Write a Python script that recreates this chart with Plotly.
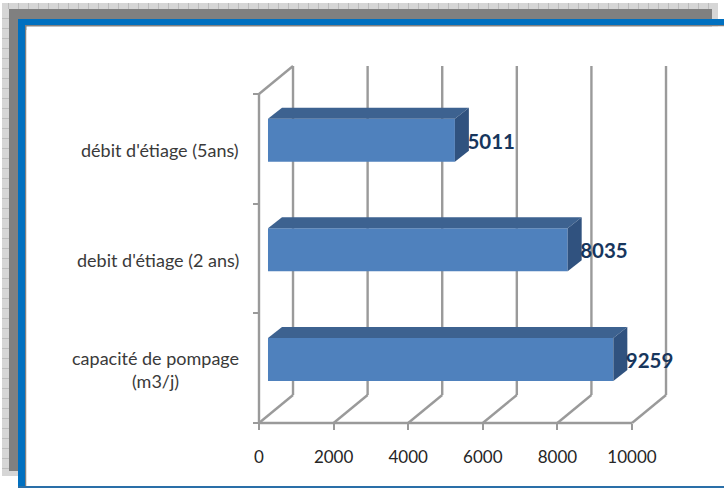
import plotly.graph_objects as go

categories = ["capacité de pompage<br>(m3/j)", "debit d'étiage (2 ans)", "débit d'étiage (5ans)"]
values = [9259, 8035, 5011]
x_ticks = [0, 2000, 4000, 6000, 8000, 10000]
cat_edges = [0, 1, 2, 3]
cat_centers = [0.5, 1.5, 2.5]

# 3-D projection of the Excel-like chart, in axis units
WALL_DX, WALL_DY = 912, 0.255     # floor depth (front axis -> back wall)
BAR_X0, BAR_Y_SHIFT = 241, 0.079  # front face offset from the front axis
BAR_DX, BAR_DY = 375, 0.10        # bar depth
BAR_H = 0.392

W, H = 724, 488
PX0, PX1 = 250, 680               # plot box, px
PY0, PY1 = 60, 430
UX = 0.0373                       # px per value unit
UY = 109.67                       # px per category

GRID = "#9a9a9a"
FRONT, TOP, SIDE = "#4f81bd", "#3d6290", "#30527f"

shapes = []


def rect(x0, y0, x1, y1, color):
    shapes.append(dict(type="rect", xref="paper", yref="paper", layer="below",
                       x0=x0 / W, x1=x1 / W, y0=1 - y0 / H, y1=1 - y1 / H,
                       fillcolor=color, line_width=0))


def seg(x0, y0, x1, y1):
    shapes.append(dict(type="line", xref="x", yref="y", layer="below",
                       x0=x0, y0=y0, x1=x1, y1=y1, line=dict(color=GRID, width=2.4)))


# frame
rect(2, 3, 718, 30, "#d6d6d6")
rect(2, 3, 18, 476, "#d6d6d6")
rect(9, 9, 712, 30, "#808080")
rect(9, 9, 18, 471, "#808080")
for px in range(8, 712, 10):
    rect(px, 3, px + 1, 9, "#bcbcbc")
for py in range(18, 476, 10):
    rect(2, py, 9, py + 1, "#bcbcbc")
rect(18, 19, 724, 25, "#0070c0")
rect(18, 25, 26, 488, "#0070c0")
rect(25, 25, 724, 26.5, "#808080")
rect(25, 25, 26.5, 486, "#808080")
rect(26.5, 26.5, 724, 486, "#ffffff")
rect(18, 486, 724, 488, "#2a6fa8")

# walls and floor
top = cat_edges[-1]
seg(0, 0, x_ticks[-1], 0)
seg(0, 0, 0, top)
seg(0, top, WALL_DX, top + WALL_DY)
for t in x_ticks:
    seg(t, 0, t + WALL_DX, WALL_DY)
    seg(t + WALL_DX, WALL_DY, t + WALL_DX, top + WALL_DY)

fig = go.Figure()

bar_y = [c + BAR_Y_SHIFT for c in cat_centers]
fig.add_trace(go.Bar(x=values, y=bar_y, base=BAR_X0, orientation="h", width=BAR_H,
                     marker=dict(color=FRONT, line_width=0), hoverinfo="skip"))

for v, y in zip(values, bar_y):
    x0, x1 = BAR_X0, BAR_X0 + v
    yb, yt = y - BAR_H / 2, y + BAR_H / 2
    fig.add_trace(go.Scatter(x=[x0, x1, x1 + BAR_DX, x0 + BAR_DX, x0],
                             y=[yt, yt, yt + BAR_DY, yt + BAR_DY, yt],
                             mode="lines", fill="toself", fillcolor=TOP,
                             line_width=0, hoverinfo="skip"))
    fig.add_trace(go.Scatter(x=[x1, x1 + BAR_DX, x1 + BAR_DX, x1, x1],
                             y=[yb, yb + BAR_DY, yt + BAR_DY, yt, yb],
                             mode="lines", fill="toself", fillcolor=SIDE,
                             line_width=0, hoverinfo="skip"))

fig.add_trace(go.Scatter(x=[BAR_X0 + v + BAR_DX - 40 for v in values], y=[y - 0.03 for y in bar_y],
                         mode="text", text=[str(v) for v in values],
                         textposition="middle right", cliponaxis=False,
                         textfont=dict(family="Lato", size=20.5, color="#17365d", weight="bold"),
                         hoverinfo="skip"))

annotations = [dict(x=241 / W, y=c - 0.01, xref="paper", yref="y", text=t, showarrow=False,
                    xanchor="right", yanchor="middle", align="center",
                    font=dict(family="Lato", size=18, color="#3a3a3a"))
               for c, t in zip(cat_centers, categories)]

fig.update_layout(
    width=W, height=H, autosize=False, showlegend=False,
    margin=dict(l=0, r=0, t=0, b=0),
    paper_bgcolor="#ffffff", plot_bgcolor="rgba(0,0,0,0)",
    shapes=shapes, annotations=annotations,
    xaxis=dict(domain=[PX0 / W, PX1 / W],
               range=[(PX0 - 259) / UX, (PX1 - 259) / UX],
               anchor="free", position=1 - 423 / H,
               tickvals=x_ticks, ticktext=[str(t) for t in x_ticks],
               ticks="outside", ticklen=6, tickwidth=2, tickcolor=GRID,
               showgrid=False, zeroline=False, showline=False,
               ticklabelstandoff=13,
               tickfont=dict(family="Lato", size=17, color="#262626")),
    yaxis=dict(domain=[1 - PY1 / H, 1 - PY0 / H],
               range=[(423 - PY1) / UY, (423 - PY0) / UY],
               anchor="free", position=259 / W,
               tickvals=cat_edges, showticklabels=False,
               ticks="outside", ticklen=6, tickwidth=2, tickcolor=GRID,
               showgrid=False, zeroline=False, showline=False),
)

fig.write_html("out.html", config={"displayModeBar": False},
               post_script="document.body.style.margin='0';document.documentElement.style.overflow='hidden';")
